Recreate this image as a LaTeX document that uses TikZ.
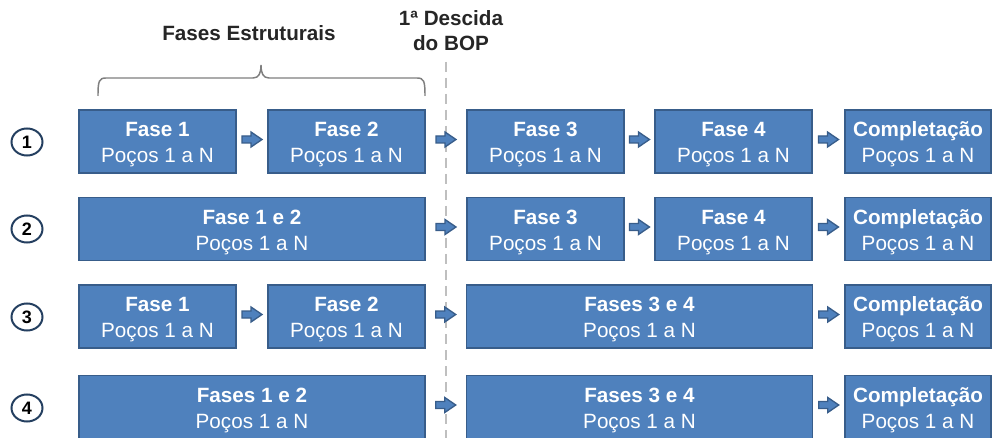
\documentclass[tikz,border=0pt]{standalone}
\usepackage{fontspec}
\setmainfont{Liberation Sans}
\usetikzlibrary{calc,shapes.geometric}

\definecolor{boxfill}{HTML}{4F81BD}
\definecolor{boxline}{HTML}{385D8A}
\definecolor{ringline}{HTML}{243F60}
\definecolor{headtext}{HTML}{262626}
\definecolor{guide}{HTML}{BFBFBF}
\definecolor{bracecol}{HTML}{7F7F7F}

\tikzset{
  phase/.style={draw=boxline, fill=boxfill, line width=1.4pt, text=white,
    align=center, inner sep=0pt, minimum height={63*0.75pt},
    font=\fontsize{15.5}{19.5}\selectfont},
  wA/.style={phase, minimum width={157*0.75pt}},
  wB/.style={phase, minimum width={346*0.75pt}},
  wC/.style={phase, minimum width={146*0.75pt}},
  ring/.style={ellipse, draw=ringline, line width=1.5pt, fill=white,
    minimum width={31*0.75pt}, minimum height={27*0.75pt}, inner sep=0pt,
    font=\fontsize{13.5}{14}\selectfont\bfseries},
  heading/.style={text=headtext, align=center,
    font=\fontsize{15.5}{19}\selectfont\bfseries},
  rarrow/.pic={
    \draw[draw=boxline, fill=boxfill, line width=1pt, line join=miter]
      (-10,-3.5) -- (-1,-3.5) -- (-1,-7.5) -- (10,0) -- (-1,7.5) -- (-1,3.5) -- (-10,3.5) -- cycle;
  }
}

% bold title line over a plain second line, set a little below the box centre
\newcommand{\twolines}[2]{\raisebox{-2.2pt}[\height][\depth]{\begin{tabular}{@{}c@{}}\textbf{#1}\\#2\end{tabular}}}

\begin{document}
\begin{tikzpicture}[x=0.75pt, y=-0.75pt]
  \useasboundingbox[fill=white] (0,0) rectangle (992,438);

  % milestone guide line
  \coordinate (gtop) at (446,62);
  \coordinate (gbot) at (446,440);
  \draw[guide, line width=1pt, dash pattern=on 7.5pt off 4.5pt] (gtop) -- (gbot);

  % headings
  \node[heading] (hstruct) at (249,33) {Fases Estruturais};
  \node[heading, font=\fontsize{15.5}{18.75}\selectfont\bfseries] (hbop) at (451,31) {1ª Descida\\do BOP};

  % brace over the structural phases
  \draw[bracecol, line width=1.1pt]
    (98,96) .. controls (98,81) and (99,78) .. (106,78) -- (253,78)
    .. controls (259,78) and (261,73) .. (261,65)
    .. controls (261,73) and (263,78) .. (269,78) -- (417,78)
    .. controls (424,78) and (425,81) .. (425,96);

  % row 1
  \node[wA] (a1) at (157.5,141.5) {\twolines{Fase 1}{Poços 1 a N}};
  \node[wA] (a2) at (346.5,141.5) {\twolines{Fase 2}{Poços 1 a N}};
  \node[wA] (a3) at (545.5,141.5) {\twolines{Fase 3}{Poços 1 a N}};
  \node[wA] (a4) at (733.5,141.5) {\twolines{Fase 4}{Poços 1 a N}};
  \node[wC] (a5) at (918,141.5) {\twolines{Completação}{Poços 1 a N}};

  % row 2
  \node[wB] (b1) at (252,229) {\twolines{Fase 1 e 2}{Poços 1 a N}};
  \node[wA] (b3) at (545.5,229) {\twolines{Fase 3}{Poços 1 a N}};
  \node[wA] (b4) at (733.5,229) {\twolines{Fase 4}{Poços 1 a N}};
  \node[wC] (b5) at (918,229) {\twolines{Completação}{Poços 1 a N}};

  % row 3
  \node[wA] (c1) at (157.5,316.5) {\twolines{Fase 1}{Poços 1 a N}};
  \node[wA] (c2) at (346.5,316.5) {\twolines{Fase 2}{Poços 1 a N}};
  \node[wB] (c3) at (639.5,316.5) {\twolines{Fases 3 e 4}{Poços 1 a N}};
  \node[wC] (c5) at (918,316.5) {\twolines{Completação}{Poços 1 a N}};

  % row 4
  \node[wB] (d1) at (252,407) {\twolines{Fases 1 e 2}{Poços 1 a N}};
  \node[wB] (d3) at (639.5,407) {\twolines{Fases 3 e 4}{Poços 1 a N}};
  \node[wC] (d5) at (918,407) {\twolines{Completação}{Poços 1 a N}};

  % row markers
  \node[ring] (n1) at (27,142) {1};
  \node[ring] (n2) at (27,229) {2};
  \node[ring] (n3) at (27,317) {3};
  \node[ring] (n4) at (27,408) {4};

  % block arrows between consecutive phases
  \foreach \s/\t in {a1/a2, a2/a3, a3/a4, a4/a5,
                     b1/b3, b3/b4, b4/b5,
                     c1/c2, c2/c3, c3/c5,
                     d1/d3, d3/d5}
    \pic at ($($(\s.east)!0.5!(\t.west)$)+(0,-2)$) {rarrow};
\end{tikzpicture}
\end{document}
